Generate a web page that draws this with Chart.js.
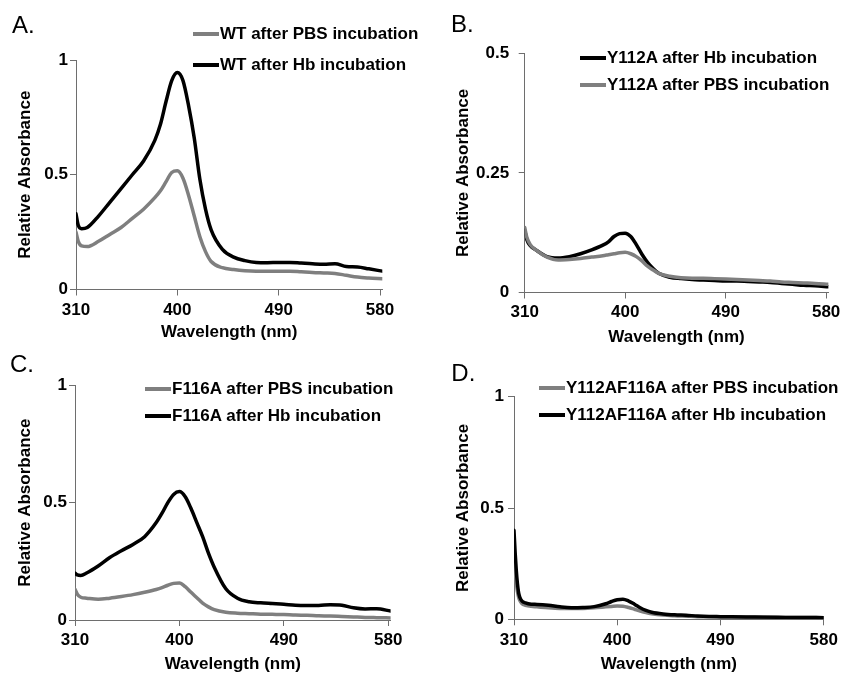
<!DOCTYPE html>
<html>
<head>
<meta charset="utf-8">
<script src="https://cdn.jsdelivr.net/npm/chart.js@4.4.1/dist/chart.umd.min.js"></script>
<style>
  body { margin: 0; background: #fff; }
  #page { position: relative; width: 844px; height: 673px; overflow: hidden; font-family: "Liberation Sans", Arial, sans-serif; }
  #page canvas { position: absolute; left: 0; top: 0; }
  .letter { position: absolute; font-size: 24px; line-height: 24px; color: #000; }
  .leg { position: absolute; display: flex; align-items: center; height: 20px; line-height: 20px; font-size: 17px; font-weight: bold; color: #000; white-space: nowrap; }
  .leg i { display: inline-block; width: 26px; height: 4px; margin-right: 1px; }
</style>
</head>
<body>
<div id="page"></div>
<script>
// 波長（nm）
const wlABC = [310, 312, 315, 320, 330, 340, 350, 360, 370, 380, 385, 390, 395, 400, 405, 410, 415, 420, 425, 430, 440, 450, 460, 470, 480, 490, 500, 510, 520, 530, 540, 550, 560, 570, 582];
const wlD = [310, 311, 312, 313, 314, 315, 317, 320, 325, 330, 340, 350, 360, 370, 380, 390, 395, 400, 405, 410, 415, 420, 425, 430, 440, 450, 460, 470, 480, 490, 500, 520, 540, 560, 580];

// A. WT
const wtPbs = [0.25, 0.21, 0.19, 0.187, 0.21, 0.24, 0.27, 0.31, 0.35, 0.40, 0.43, 0.47, 0.51, 0.517, 0.485, 0.41, 0.32, 0.23, 0.165, 0.122, 0.095, 0.087, 0.082, 0.08, 0.08, 0.08, 0.08, 0.077, 0.074, 0.072, 0.07, 0.062, 0.054, 0.05, 0.047];
const wtHb = [0.33, 0.28, 0.265, 0.27, 0.32, 0.38, 0.44, 0.50, 0.56, 0.65, 0.72, 0.82, 0.91, 0.945, 0.91, 0.80, 0.66, 0.48, 0.35, 0.26, 0.175, 0.141, 0.126, 0.118, 0.117, 0.118, 0.118, 0.115, 0.112, 0.11, 0.112, 0.1, 0.098, 0.09, 0.08];

// B. Y112A
const y112aHb = [0.13, 0.11, 0.098, 0.089, 0.075, 0.072, 0.075, 0.081, 0.089, 0.099, 0.106, 0.117, 0.123, 0.124, 0.117, 0.1, 0.08, 0.063, 0.05, 0.04, 0.032, 0.029, 0.027, 0.026, 0.025, 0.024, 0.024, 0.023, 0.022, 0.021, 0.019, 0.017, 0.015, 0.014, 0.012];
const y112aPbs = [0.136, 0.115, 0.1, 0.089, 0.074, 0.068, 0.069, 0.071, 0.074, 0.077, 0.079, 0.081, 0.083, 0.084, 0.081, 0.075, 0.066, 0.055, 0.047, 0.04, 0.034, 0.031, 0.03, 0.03, 0.029, 0.028, 0.027, 0.026, 0.025, 0.024, 0.022, 0.021, 0.02, 0.019, 0.017];

// C. F116A
const f116aPbs = [0.131, 0.11, 0.097, 0.093, 0.088, 0.093, 0.1, 0.108, 0.118, 0.13, 0.138, 0.148, 0.156, 0.158, 0.142, 0.118, 0.095, 0.072, 0.056, 0.044, 0.033, 0.029, 0.027, 0.025, 0.024, 0.023, 0.021, 0.02, 0.018, 0.017, 0.015, 0.013, 0.011, 0.01, 0.009];
const f116aHb = [0.2, 0.192, 0.19, 0.2, 0.23, 0.266, 0.295, 0.322, 0.355, 0.415, 0.455, 0.5, 0.535, 0.547, 0.525, 0.475, 0.415, 0.355, 0.285, 0.225, 0.133, 0.093, 0.078, 0.073, 0.07, 0.067, 0.063, 0.062, 0.062, 0.065, 0.063, 0.052, 0.047, 0.048, 0.038];

// D. Y112AF116A
const dblPbs = [0.30, 0.22, 0.165, 0.125, 0.1, 0.085, 0.07, 0.063, 0.058, 0.056, 0.052, 0.049, 0.048, 0.049, 0.052, 0.056, 0.058, 0.06, 0.059, 0.053, 0.045, 0.037, 0.03, 0.025, 0.019, 0.016, 0.014, 0.012, 0.011, 0.0105, 0.01, 0.009, 0.008, 0.008, 0.0075];
const dblHb = [0.40, 0.30, 0.22, 0.16, 0.12, 0.1, 0.082, 0.074, 0.068, 0.067, 0.063, 0.056, 0.052, 0.053, 0.057, 0.07, 0.08, 0.088, 0.09, 0.082, 0.068, 0.052, 0.04, 0.032, 0.024, 0.02, 0.018, 0.015, 0.013, 0.012, 0.011, 0.01, 0.009, 0.008, 0.0075];

// 目盛り
const xTicks = [310, 400, 490, 580];
const yTicks1 = [0, 0.5, 1];
const yTicksB = [0, 0.25, 0.5];

const GRAY = "#7f7f7f";
const BLACK = "#000000";
const AXIS = "#6e6e6e";
const FONT = "'Liberation Sans', Arial, sans-serif";

// パネルごとの配置（キャンバス 844x673 上の位置）
const panels = [
  { letter: "A.", lx: 12, ly: 12.7, wl: wlABC, xMax: 582, yMax: 1, yTicks: yTicks1,
    pad: { left: 17.3, top: 60, right: 461.7, bottom: 332.2 }, yW: 58.7, xH: 51.3, xPad: 5, yPad: 2,
    legX: 193, legY: [34, 65],
    series: [{ label: "WT after PBS incubation", values: wtPbs, color: GRAY },
             { label: "WT after Hb incubation", values: wtHb, color: BLACK }] },
  { letter: "B.", lx: 451, ly: 12, wl: wlABC, xMax: 582, yMax: 0.5, yTicks: yTicksB,
    pad: { left: 455.2, top: 53.3, right: 13, bottom: 327.2 }, yW: 69.5, xH: 53.3, xPad: 3.6, yPad: 9.5,
    legX: 580, legY: [58.3, 85],
    series: [{ label: "Y112A after Hb incubation", values: y112aHb, color: BLACK },
             { label: "Y112A after PBS incubation", values: y112aPbs, color: GRAY }] },
  { letter: "C.", lx: 10, ly: 352.4, wl: wlABC, xMax: 582, yMax: 1, yTicks: yTicks1,
    pad: { left: 16.5, top: 385.3, right: 453.4, bottom: 0.5 }, yW: 58.5, xH: 52.5, xPad: 3.8, yPad: 2,
    legX: 145, legY: [388.7, 416],
    series: [{ label: "F116A after PBS incubation", values: f116aPbs, color: GRAY },
             { label: "F116A after Hb incubation", values: f116aHb, color: BLACK }] },
  { letter: "D.", lx: 451.3, ly: 361.4, wl: wlD, xMax: 580, yMax: 1, yTicks: yTicks1,
    pad: { left: 455.2, top: 396.7, right: 20.3, bottom: 0.2 }, yW: 58.8, xH: 53.5, xPad: 4.5, yPad: 4,
    legX: 539, legY: [388.3, 415.3],
    series: [{ label: "Y112AF116A after PBS incubation", values: dblPbs, color: GRAY },
             { label: "Y112AF116A after Hb incubation", values: dblHb, color: BLACK }] },
];

const page = document.getElementById("page");

function addLegend(p) {
  p.series.forEach((s, i) => {
    const row = document.createElement("div");
    row.className = "leg";
    row.style.left = p.legX + "px";
    row.style.top = (p.legY[i] - 10) + "px";
    row.innerHTML = `<i style="background:${s.color}"></i><span></span>`;
    row.querySelector("span").textContent = s.label;
    page.appendChild(row);
  });
  const l = document.createElement("div");
  l.className = "letter";
  l.style.left = p.lx + "px";
  l.style.top = p.ly + "px";
  l.textContent = p.letter;
  page.appendChild(l);
}

function makePanel(p) {
  const canvas = document.createElement("canvas");
  canvas.width = 844;
  canvas.height = 673;
  page.appendChild(canvas);

  const tickFont = { family: FONT, size: 17, weight: "bold", lineHeight: 1.2 };
  const titleFont = { family: FONT, size: 17, weight: "bold", lineHeight: 1 };

  new Chart(canvas, {
    type: "line",
    data: {
      // 凡例の下の系列を先に描く
      datasets: p.series.slice().reverse().map((s) => ({
        label: s.label,
        data: p.wl.map((w, i) => ({ x: w, y: s.values[i] })),
        borderColor: s.color,
        borderWidth: 3.5,
        borderCapStyle: "round",
        borderJoinStyle: "round",
        pointRadius: 0,
        fill: false,
        cubicInterpolationMode: "monotone",
      })),
    },
    options: {
      responsive: false,
      animation: false,
      devicePixelRatio: 1,
      events: [],
      layout: { autoPadding: false, padding: p.pad },
      plugins: { legend: { display: false }, tooltip: { enabled: false } },
      scales: {
        x: {
          type: "linear",
          min: 310,
          max: p.xMax,
          afterBuildTicks: (s) => { s.ticks = xTicks.map((v) => ({ value: v })); },
          afterFit: (s) => { s.height = p.xH; },
          ticks: { autoSkip: false, maxRotation: 0, padding: p.xPad, color: "#000", font: tickFont, callback: (v) => String(v) },
          grid: { drawOnChartArea: false, drawTicks: true, tickLength: 6, tickColor: AXIS, tickWidth: 1 },
          border: { display: true, color: AXIS, width: 1 },
          title: { display: true, text: "Wavelength (nm)", color: "#000", font: titleFont, padding: 0 },
        },
        y: {
          type: "linear",
          min: 0,
          max: p.yMax,
          afterBuildTicks: (s) => { s.ticks = p.yTicks.map((v) => ({ value: v })); },
          afterFit: (s) => { s.width = p.yW; },
          ticks: { autoSkip: false, padding: p.yPad, color: "#000", font: tickFont, callback: (v) => String(v) },
          grid: { drawOnChartArea: false, drawTicks: true, tickLength: 6, tickColor: AXIS, tickWidth: 1 },
          border: { display: true, color: AXIS, width: 1 },
          title: { display: true, text: "Relative Absorbance", color: "#000", font: titleFont, padding: 0 },
        },
      },
    },
  });
}

panels.forEach((p) => {
  makePanel(p);
  addLegend(p);
});
</script>
</body>
</html>
